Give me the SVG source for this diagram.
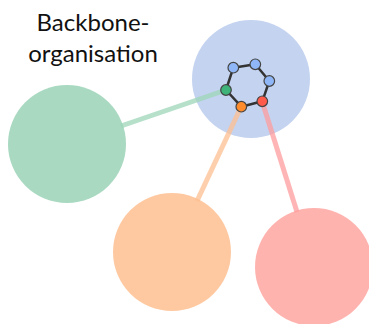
<svg xmlns="http://www.w3.org/2000/svg" width="369" height="324" viewBox="0 0 369 324">
<style>
.big{stroke:none}
.edge{stroke-width:5;stroke-linecap:butt;fill:none;opacity:0.75}
.sn{stroke:#444;stroke-width:1.2}
.lbl{font-family:Lato,"Liberation Sans",sans-serif;font-size:24px;fill:#111;text-anchor:middle}
</style>
<rect width="369" height="324" fill="#fff"/>
<g id="backbone">
<circle class="big" cx="251" cy="79" r="59" fill="#c4d3f0"/>
</g>
<g id="green"><circle class="big" cx="67" cy="144" r="59" fill="#a9d9c1"/></g>
<g id="orange"><circle class="big" cx="172" cy="252" r="59" fill="#fec9a1"/></g>
<g id="red"><circle class="big" cx="314" cy="267" r="59" fill="#ffb3af"/></g>
<g id="connectors">
<line class="edge" x1="226" y1="90" x2="121" y2="126" stroke="#9dd5b8"/>
<line class="edge" x1="241" y1="107" x2="197" y2="201" stroke="#fdbf90"/>
<line class="edge" x1="262" y1="101" x2="297" y2="212" stroke="#ff9c9c"/>
</g>
<g id="ring">
<polygon points="226,90 233.3,67.7 255.3,64.3 269.3,81 262.3,101.3 241.3,106.7" fill="none" stroke="#333" stroke-width="2.5" stroke-linejoin="round"/>
<circle class="sn" cx="233.3" cy="67.7" r="5.3" fill="#8fb6f6"/>
<circle class="sn" cx="255.3" cy="64.3" r="5.3" fill="#8fb6f6"/>
<circle class="sn" cx="269.3" cy="81" r="5.3" fill="#8fb6f6"/>
<circle class="sn" cx="262.3" cy="101.3" r="5.3" fill="#ff5a4a"/>
<circle class="sn" cx="241.3" cy="106.7" r="5.3" fill="#ff8c2c"/>
<circle class="sn" cx="226" cy="90" r="5.3" fill="#3fb47a"/>
</g>
<g id="label">
<text class="lbl" x="93" y="31">Backbone-</text>
<text class="lbl" x="93" y="62">organisation</text>
</g>
</svg>
